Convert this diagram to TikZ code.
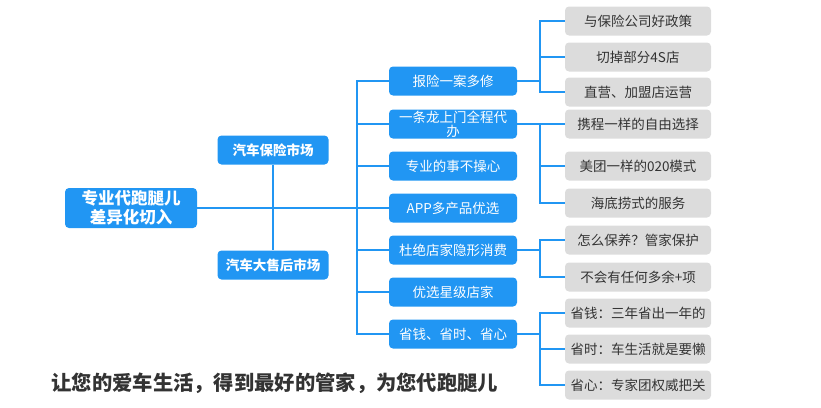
\documentclass[tikz,border=0pt]{standalone}
\usepackage{fontspec}
\usepackage{tikz}
\newfontfamily\cjk{Noto Sans CJK SC}
\definecolor{mapblue}{HTML}{2196F3}
\definecolor{leafgray}{HTML}{DCDCDC}
\definecolor{textgray}{HTML}{333333}

\begin{document}
\begin{tikzpicture}[x=1pt,y=-1pt,
  mainbox/.style={fill=mapblue,rounded corners=4pt,text=white,align=center,
    font=\cjk\bfseries\fontsize{16.5}{19}\selectfont,minimum width=132pt,minimum height=40pt,inner sep=1pt},
  marketbox/.style={fill=mapblue,rounded corners=4pt,text=white,
    font=\cjk\bfseries\fontsize{13.5}{15}\selectfont,minimum width=111pt,minimum height=29pt,inner sep=1pt},
  itembox/.style={fill=mapblue,rounded corners=4pt,text=white,align=center,
    font=\cjk\fontsize{13.5}{14}\selectfont,minimum width=128pt,minimum height=29pt,inner sep=1pt},
  leafbox/.style={fill=leafgray,rounded corners=4pt,text=textgray,
    font=\cjk\fontsize{13.5}{14}\selectfont,minimum width=146pt,minimum height=29pt,inner sep=1pt},
  link/.style={draw=mapblue,line width=1.2pt}]
\useasboundingbox (0,0) rectangle (821,407);

% root and the two markets
\node[mainbox] (root) at (131,208) {专业代跑腿儿\\差异化切入};
\node[marketbox] (insure) at (273,150) {汽车保险市场};
\node[marketbox] (after) at (273,265) {汽车大售后市场};
\coordinate (trunk) at (357,208);
\coordinate (fork) at (540,0);

% middle column
\foreach \y/\t [count=\i] in {81/报险一案多修,124/{一条龙上门全程代\\办},166/专业的事不操心,
  208/APP多产品优选,250/杜绝店家隐形消费,292/优选星级店家,334/{省钱、省时、省心}} {
\node[itembox] (m\i) at (453,\y) {\t};
}

% right column
\foreach \y/\t [count=\i] in {21/与保险公司好政策,57/切掉部分4S店,92/{直营、加盟店运营},
  124/携程一样的自由选择,166/美团一样的020模式,203/海底捞式的服务,
  240/{怎么保养？管家保护},277/不会有任何多余+项,
  313/{省钱：三年省出一年的},349/{省时：车生活就是要懒},385/{省心：专家团权威把关}} {
\node[leafbox] (r\i) at (638,\y) {\t};
}

\draw[link] (root) -- (trunk);
\draw[link] (insure) -- (after);
\foreach \i in {1,...,7} {
\draw[link] (trunk) |- (m\i.west);
}
\foreach \m/\r in {1/1,1/2,1/3,2/4,2/5,2/6,5/7,5/8,7/9,7/10,7/11} {
\draw[link] (m\m.east) -- (m\m.east -| fork) |- (r\r.west);
}

\node[font=\cjk\bfseries\fontsize{20.3}{21}\selectfont,text=textgray,anchor=west] (motto) at (48,383)
  {让您的爱车生活，得到最好的管家，为您代跑腿儿};
\end{tikzpicture}
\end{document}
